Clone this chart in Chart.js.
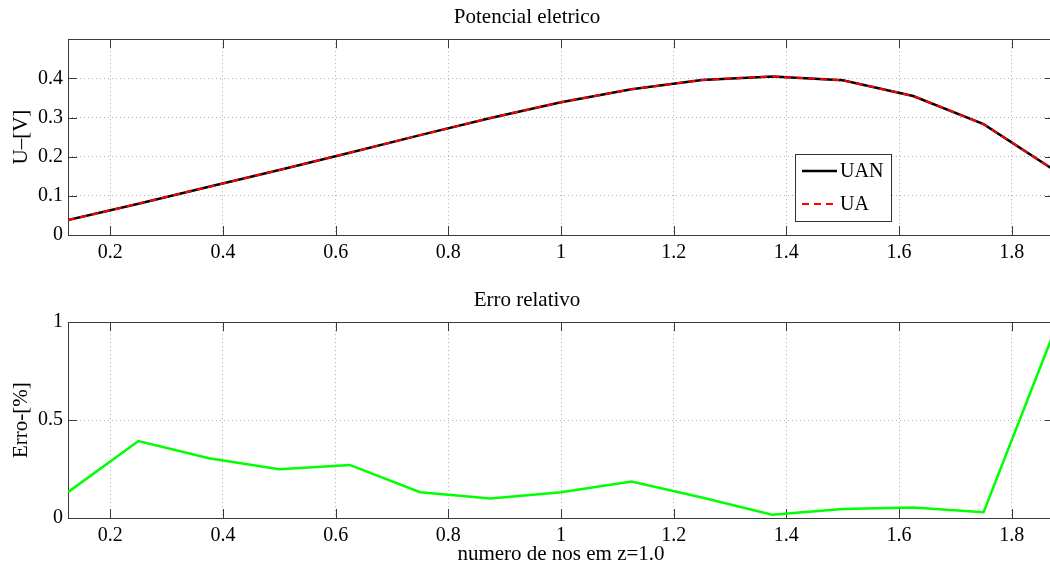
<!DOCTYPE html>
<html>
<head>
<meta charset="utf-8">
<script src="https://cdn.jsdelivr.net/npm/chart.js@4.4.0/dist/chart.umd.min.js"></script>
<style>
  html, body { margin: 0; padding: 0; background: #fff; overflow: hidden; }
  #wrap { position: relative; width: 1050px; height: 565px; overflow: hidden; background: #fff; }
  canvas { position: absolute; left: 0; }
</style>
</head>
<body>
<div id="wrap">
  <canvas id="potChart" width="1060" height="282" style="top:0"></canvas>
  <canvas id="errChart" width="1060" height="282" style="top:283px"></canvas>
</div>
<script>
// positions along z (x axis)
const nodePos = [0.125, 0.25, 0.375, 0.5, 0.625, 0.75, 0.875, 1.0, 1.125, 1.25, 1.375, 1.5, 1.625, 1.75, 1.875];

// potential, numeric and analytic (they overlap)
const uanValues = [0.038, 0.080, 0.123, 0.166, 0.210, 0.255, 0.299, 0.339, 0.372, 0.396, 0.405, 0.395, 0.355, 0.283, 0.166];
const uaValues  = [0.038, 0.080, 0.123, 0.166, 0.210, 0.255, 0.299, 0.339, 0.372, 0.396, 0.405, 0.395, 0.355, 0.283, 0.166];

// relative error in %
const errValues = [0.132, 0.393, 0.305, 0.249, 0.271, 0.132, 0.100, 0.132, 0.186, 0.105, 0.017, 0.046, 0.054, 0.030, 0.950];

// tick labels
const xTicks = [0.2, 0.4, 0.6, 0.8, 1.0, 1.2, 1.4, 1.6, 1.8];
const potTicks = [0, 0.1, 0.2, 0.3, 0.4];
const errTicks = [0, 0.5, 1];

const serif = "'Liberation Serif', 'DejaVu Serif', serif";
const tickFont = { family: serif, size: 20, weight: 'normal' };
const labelFont = { family: serif, size: 21, weight: 'normal' };

function fmt(v) {
  return String(+Number(v).toFixed(3));
}

// box round the axes and inward tick marks, like matlab
const axisFrame = {
  id: 'axisFrame',
  beforeDatasetsDraw(chart) {
    const { ctx, chartArea: a, scales } = chart;
    ctx.save();
    ctx.strokeStyle = '#3a3a3a';
    ctx.lineWidth = 1;
    ctx.beginPath();
    scales.x.ticks.forEach(t => {
      const px = Math.round(scales.x.getPixelForValue(t.value)) + 0.5;
      ctx.moveTo(px, a.bottom); ctx.lineTo(px, a.bottom - 9);
      ctx.moveTo(px, a.top); ctx.lineTo(px, a.top + 9);
    });
    scales.y.ticks.forEach(t => {
      const py = Math.round(scales.y.getPixelForValue(t.value)) + 0.5;
      ctx.moveTo(a.left, py); ctx.lineTo(a.left + 9, py);
      ctx.moveTo(a.right, py); ctx.lineTo(a.right - 9, py);
    });
    ctx.stroke();
    ctx.strokeRect(Math.round(a.left) + 0.5, Math.round(a.top) + 0.5,
      Math.round(a.right - a.left), Math.round(a.bottom - a.top));
    ctx.restore();
  }
};

// legend box inside the plot
const boxLegend = {
  id: 'boxLegend',
  afterDatasetsDraw(chart, args, opts) {
    if (!opts.show) return;
    const ctx = chart.ctx;
    ctx.save();
    ctx.fillStyle = '#fff';
    ctx.fillRect(opts.left, opts.top, opts.width, opts.height);
    ctx.strokeStyle = '#333';
    ctx.lineWidth = 1;
    ctx.strokeRect(opts.left + 0.5, opts.top + 0.5, opts.width, opts.height);
    ctx.font = '20px ' + serif;
    ctx.textBaseline = 'middle';
    chart.data.datasets.forEach((ds, i) => {
      const y = opts.top + 17 + i * 33;
      ctx.strokeStyle = ds.borderColor;
      ctx.lineWidth = ds.borderWidth;
      ctx.setLineDash(ds.borderDash || []);
      ctx.beginPath();
      ctx.moveTo(opts.left + 7, y);
      ctx.lineTo(opts.left + 42, y);
      ctx.stroke();
      ctx.setLineDash([]);
      ctx.fillStyle = '#000';
      ctx.fillText(ds.label, opts.left + 45, y + 1);
    });
    ctx.restore();
  }
};

function makeOptions(title, yTitle, yMax, yTicks, xTitle, legendOpts) {
  return {
    responsive: false,
    animation: false,
    layout: { padding: { left: 0, right: 6, top: 0, bottom: 0 } },
    plugins: {
      legend: { display: false },
      tooltip: { enabled: false },
      title: {
        display: true,
        text: title,
        color: '#000',
        font: labelFont,
        padding: { top: 5, bottom: 9 }
      },
      boxLegend: legendOpts
    },
    scales: {
      x: {
        type: 'linear',
        min: 0.125,
        max: 1.875,
        afterBuildTicks: s => { s.ticks = xTicks.map(v => ({ value: v })); },
        afterFit: s => { s.height = 47; },
        ticks: { font: tickFont, color: '#000', padding: 6, maxRotation: 0, autoSkip: false, callback: fmt },
        grid: { color: '#b0b0b0', lineWidth: 1, drawTicks: false },
        border: { display: false, dash: [1, 3] },
        title: {
          display: !!xTitle,
          text: xTitle,
          color: '#000',
          font: { family: serif, size: 21, weight: 'normal', lineHeight: 1 },
          padding: { top: 0, bottom: 0 }
        }
      },
      y: {
        min: 0,
        max: yMax,
        afterBuildTicks: s => { s.ticks = yTicks.map(v => ({ value: v })); },
        afterFit: s => { s.width = 68; },
        ticks: { font: tickFont, color: '#000', padding: 5, autoSkip: false, callback: fmt },
        grid: { color: '#b0b0b0', lineWidth: 1, drawTicks: false },
        border: { display: false, dash: [1, 3] },
        title: {
          display: true,
          text: yTitle,
          color: '#000',
          font: labelFont,
          padding: { top: 9, bottom: 0 }
        }
      }
    }
  };
}

const potChart = new Chart(document.getElementById('potChart').getContext('2d'), {
  type: 'line',
  data: {
    datasets: [{
      label: 'UAN',
      data: nodePos.map((x, i) => ({ x: x, y: uanValues[i] })),
      borderColor: '#000000',
      borderWidth: 2.5,
      pointRadius: 0,
      tension: 0,
      order: 2
    }, {
      label: 'UA',
      data: nodePos.map((x, i) => ({ x: x, y: uaValues[i] })),
      borderColor: '#ff0000',
      borderWidth: 2,
      borderDash: [7, 5],
      pointRadius: 0,
      tension: 0,
      order: 1
    }]
  },
  options: makeOptions('Potencial eletrico', 'U\u2013[V]', 0.5, potTicks, '',
    { show: true, left: 795, top: 154, width: 96, height: 67 }),
  plugins: [axisFrame, boxLegend]
});

const errChart = new Chart(document.getElementById('errChart').getContext('2d'), {
  type: 'line',
  data: {
    datasets: [{
      label: 'Erro',
      data: nodePos.map((x, i) => ({ x: x, y: errValues[i] })),
      borderColor: '#00ff00',
      borderWidth: 2.5,
      pointRadius: 0,
      tension: 0
    }]
  },
  options: makeOptions('Erro relativo', 'Erro-[%]', 1, errTicks, 'numero de nos em z=1.0',
    { show: false }),
  plugins: [axisFrame, boxLegend]
});
</script>
</body>
</html>
